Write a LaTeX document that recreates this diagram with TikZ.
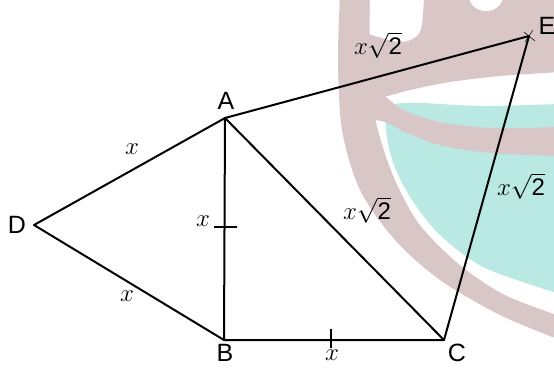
\documentclass[tikz,border=0pt]{standalone}
\usepackage{fontspec}
\setmainfont{Liberation Sans}
\definecolor{wmpink}{RGB}{217,198,198}
\definecolor{wmcyan}{RGB}{186,232,226}
\tikzset{
  side/.style={line width=2pt,line cap=round,line join=round},
  tick/.style={line width=1.3pt},
  vlabel/.style={font=\fontsize{25}{27}\selectfont,inner sep=0pt},
  slabel/.style={font=\fontsize{24}{26}\selectfont,inner sep=0pt},
}
\begin{document}
\begin{tikzpicture}[x=1pt,y=-1pt]
  \useasboundingbox (0,0) rectangle (554,368);
  \begin{scope}
    \clip (0,0) rectangle (554,368);
    \fill[wmpink] (560,-5) -- plot[smooth] coordinates {(340,-5) (338,60) (342,130) (360,190) (395,240) (440,280) (500,315) (560,340)} -- cycle;
    \fill[white] (560,-5) -- plot[smooth] coordinates {(370,-5) (370,80) (378,130) (395,180) (420,225) (460,265) (505,295) (560,316)} -- cycle;
    \fill[wmcyan] plot[smooth] coordinates {(560,104) (480,106) (420,103) (390,106) (386,130) (394,165) (412,200) (440,235) (485,268) (560,294)} -- cycle;
    \fill[wmpink] plot[smooth] coordinates {(362,75) (400,108) (440,122) (490,128) (560,127)} -- plot[smooth] coordinates {(560,156) (490,153) (440,145) (405,132) (385,122) (362,118)} -- cycle;
    \fill[wmpink] plot[smooth] coordinates {(362,32) (400,42) (420,32) (424,-5)} -- (560,-5) -- plot[smooth] coordinates {(560,72) (500,76) (450,82) (410,90) (380,98) (362,100)} -- cycle;
    \fill[white] (486,-4) ellipse (17 and 15);
  \end{scope}
  \coordinate (A) at (225,118);
  \coordinate (B) at (224,340);
  \coordinate (C) at (444,340);
  \coordinate (D) at (34,225);
  \coordinate (E) at (529,36);
  \draw[side] (D) -- (A) -- (E) -- (C) -- (B) -- cycle;
  \draw[side] (A) -- (B);
  \draw[side] (A) -- (C);
  \draw[tick] (214,227) -- (237,227);
  \draw[tick] (331,329) -- (331,348);
  \draw[line width=0.5pt] (524,32) -- (535,41);
  \draw[line width=0.5pt] (525,42) -- (533,30);
  \node[vlabel] (lA) at (226,101) {A};
  \node[vlabel] (lB) at (225,353) {B};
  \node[vlabel] (lC) at (457,353) {C};
  \node[vlabel] (lD) at (17,225) {D};
  \node[vlabel] (lE) at (547,26) {E};
  \node[slabel] (xDA) at (132,149) {$x$};
  \node[slabel] (xDB) at (127,296) {$x$};
  \node[slabel] (xAB) at (203,221) {$x$};
  \node[slabel] (xBC) at (332,355) {$x$};
  \node[slabel] (rAE) at (378,45) {$x\sqrt{\mbox{2}}$};
  \node[slabel] (rAC) at (367,210) {$x\sqrt{\mbox{2}}$};
  \node[slabel] (rCE) at (521,186) {$x\sqrt{\mbox{2}}$};
\end{tikzpicture}
\end{document}
